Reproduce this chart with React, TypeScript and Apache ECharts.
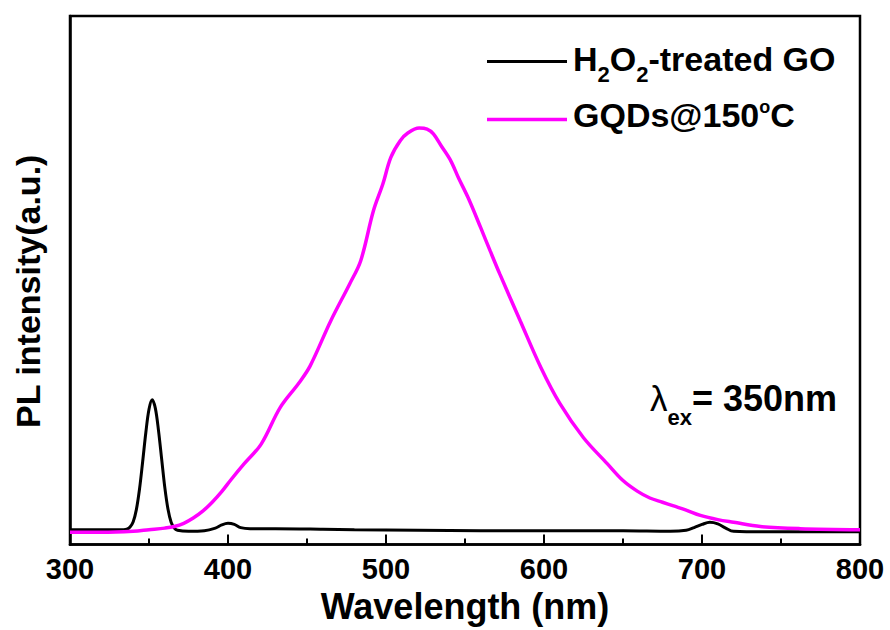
import React, { useEffect, useRef } from "react";
import * as echarts from "echarts";

const goWavelength = [300, 320, 334, 336, 338, 340, 342, 344, 346, 348, 350, 352, 354, 356, 358, 360, 362, 364, 366, 368, 375, 385, 392, 396, 400, 404, 408, 414, 430, 460, 480, 520, 560, 600, 650, 680, 690, 695, 700, 705, 710, 715, 720, 740, 800];
const goIntensity = [2.8, 2.8, 2.8, 2.9, 3.3, 4.3, 6.6, 10.5, 15.7, 21.2, 25.6, 27.4, 25.8, 21.6, 16.2, 10.8, 6.7, 4.2, 3.1, 2.7, 2.5, 2.6, 3.1, 3.7, 4.0, 3.8, 3.2, 3.0, 3.0, 2.9, 2.8, 2.7, 2.6, 2.6, 2.6, 2.5, 2.7, 3.2, 3.8, 4.2, 3.9, 3.1, 2.5, 2.4, 2.4];

const gqdWavelength = [300, 320, 340, 350, 360, 366, 372, 378, 384, 390, 396, 402, 410, 421, 433, 445, 452, 465, 477, 484, 492, 498, 503, 509, 514, 521, 526, 530, 535, 541, 546, 552, 560, 566, 572, 585, 598, 610, 625, 640, 650, 659, 667, 675, 682, 690, 699, 710, 720, 737, 762, 800];
const gqdIntensity = [2.3, 2.3, 2.5, 2.8, 3.1, 3.4, 4.0, 5.0, 6.3, 8.0, 10.0, 12.3, 15.2, 19.0, 25.9, 30.6, 33.8, 42.3, 49.3, 53.7, 63.1, 68.2, 73.2, 76.4, 77.9, 78.8, 78.6, 77.7, 75.4, 72.6, 69.3, 65.6, 59.9, 55.5, 51.2, 42.3, 33.5, 26.7, 20.2, 15.3, 12.1, 10.1, 8.8, 8.0, 7.3, 6.5, 5.5, 4.7, 4.2, 3.4, 3.0, 2.8];

const seriesNames = ["H2O2-treated GO", "GQDs@150°C"];
const seriesColors = ["#000000", "#ff00ff"];
const xTitle = "Wavelength (nm)";
const yTitle = "PL intensity(a.u.)";

const FONT = "'Liberation Sans', Arial, Helvetica, sans-serif";

const richStyles = {
  m: { fontSize: 34, fontWeight: "bold", fontFamily: FONT, color: "#000", lineHeight: 34 },
  b: { fontSize: 36, fontWeight: "bold", fontFamily: FONT, color: "#000", lineHeight: 34 },
  g: { fontSize: 35, fontWeight: "normal", fontFamily: FONT, color: "#000", lineHeight: 34 },
  sub: { fontSize: 22, fontWeight: "bold", fontFamily: FONT, color: "#000", lineHeight: 22, padding: [30, 0, 0, 0] },
  sub2: { fontSize: 22, fontWeight: "bold", fontFamily: FONT, color: "#000", lineHeight: 22, padding: [38, 0, 0, 0] },
  sup: { fontSize: 18, fontWeight: "bold", fontFamily: FONT, color: "#000", lineHeight: 18, padding: [0, 0, 16, 0] },
};

export default function App() {
  const ref = useRef<HTMLDivElement>(null);
  useEffect(() => {
    if (!ref.current) return;
    const chart = echarts.init(ref.current, null, { renderer: "svg" });
    const pairs = (xs: number[], ys: number[]) => xs.map((x, i) => [x, ys[i]]);
    chart.setOption({
      animation: false,
      backgroundColor: "#ffffff",
      grid: {
        left: 70,
        right: 30,
        top: 16,
        bottom: 85.5,
        show: true,
        borderColor: "#000",
        borderWidth: 2.5,
        backgroundColor: "transparent",
        outerBoundsMode: "none",
      },
      legend: { show: false, data: seriesNames },
      xAxis: {
        type: "value",
        min: 300,
        max: 800,
        interval: 100,
        name: xTitle,
        nameLocation: "middle",
        nameGap: 39.5,
        nameTextStyle: { fontSize: 36, fontWeight: "bold", fontFamily: FONT, color: "#000" },
        axisLine: { show: true, lineStyle: { color: "#000", width: 2.5 } },
        axisTick: { show: true, inside: true, length: 10, lineStyle: { color: "#000", width: 2 } },
        minorTick: { show: true, splitNumber: 2, length: 6, lineStyle: { color: "#000", width: 2 } },
        splitLine: { show: false },
        minorSplitLine: { show: false },
        axisLabel: { fontSize: 29, fontWeight: "bold", fontFamily: FONT, color: "#000", margin: 10 },
      },
      yAxis: {
        type: "value",
        min: 0,
        max: 100,
        name: yTitle,
        nameLocation: "middle",
        nameGap: 25,
        nameTextStyle: { fontSize: 34, fontWeight: "bold", fontFamily: FONT, color: "#000", padding: [0, 22, 0, 0] },
        axisLine: { show: true, lineStyle: { color: "#000", width: 2.5 } },
        axisTick: { show: false },
        axisLabel: { show: false },
        splitLine: { show: false },
      },
      series: [
        {
          name: seriesNames[0],
          type: "line",
          data: pairs(goWavelength, goIntensity),
          symbol: "none",
          smooth: 0.35,
          lineStyle: { color: seriesColors[0], width: 3 },
          itemStyle: { color: seriesColors[0] },
          z: 2,
        },
        {
          name: seriesNames[1],
          type: "line",
          data: pairs(gqdWavelength, gqdIntensity),
          symbol: "none",
          smooth: 0.35,
          lineStyle: { color: seriesColors[1], width: 3.5 },
          itemStyle: { color: seriesColors[1] },
          z: 3,
        },
      ],
      graphic: [
        {
          type: "line",
          shape: { x1: 487, y1: 61.5, x2: 567, y2: 61.5 },
          style: { stroke: seriesColors[0], lineWidth: 3 },
        },
        {
          type: "text",
          x: 573,
          y: 42.2,
          style: {
            text: "{m|H}{sub|2}{m|O}{sub|2}{m|-treated GO}",
            verticalAlign: "top",
            align: "left",
            rich: richStyles,
          },
        },
        {
          type: "line",
          shape: { x1: 487, y1: 119.5, x2: 567, y2: 119.5 },
          style: { stroke: seriesColors[1], lineWidth: 3.5 },
        },
        {
          type: "text",
          x: 573,
          y: 98.2,
          style: {
            text: "{m|GQDs@150}{sup|o}{m|C}",
            verticalAlign: "top",
            align: "left",
            rich: richStyles,
          },
        },
        {
          type: "text",
          x: 650,
          y: 381,
          style: {
            text: "{g|λ}{sub2|ex}{b|= 350nm}",
            verticalAlign: "top",
            align: "left",
            rich: richStyles,
          },
        },
      ],
    });
    return () => chart.dispose();
  }, []);
  return <div ref={ref} style={{ position: "fixed", left: 0, top: 0, width: 890, height: 630 }} />;
}
